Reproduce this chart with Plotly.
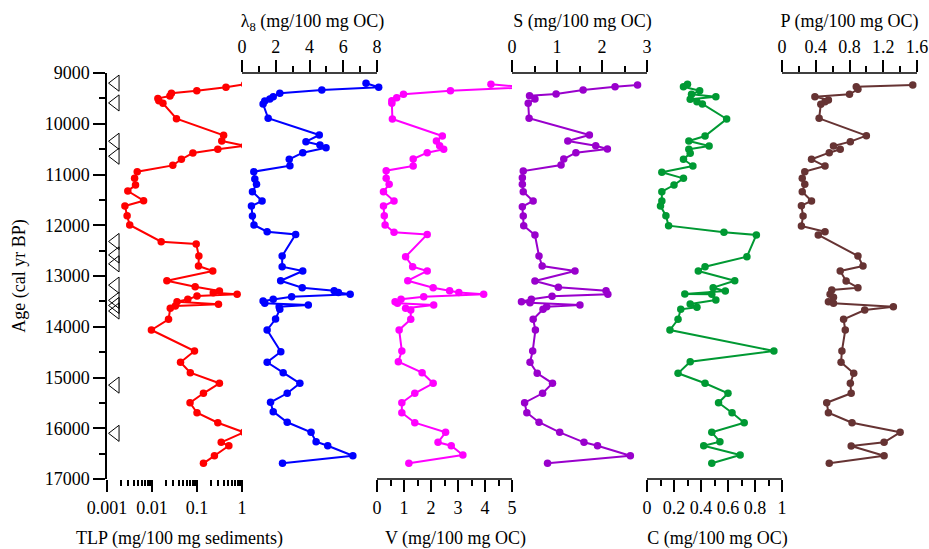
import plotly.graph_objects as go

# ---------------- data ----------------
tlp_age = [9223, 9282, 9348, 9400, 9453, 9500, 9545, 9598, 9900, 10228, 10340, 10432, 10504, 10576,
           10700, 10820, 10944, 11076, 11207, 11325, 11516, 11621, 11811, 11995, 12324, 12369, 12606,
           12803, 12901, 13093, 13211, 13296, 13330, 13361, 13394, 13460, 13507, 13558, 13591, 13636,
           13853, 14064, 14478, 14700, 14905, 15114, 15311, 15497, 15694, 15891, 16080, 16277, 16344,
           16541, 16691]
tlp_val = [1.15, 0.44, 0.099, 0.027, 0.025, 0.0135, 0.0142, 0.0175, 0.035, 0.39, 0.355, 1.15, 0.29, 0.081,
           0.045, 0.029, 0.0047, 0.0041, 0.0043, 0.0029, 0.0065, 0.0025, 0.0028, 0.0032, 0.016, 0.096, 0.11,
           0.108, 0.224, 0.0214, 0.091, 0.315, 0.23, 0.78, 0.1, 0.0625, 0.036, 0.3, 0.033, 0.0255,
           0.0233, 0.0097, 0.088, 0.043, 0.071, 0.315, 0.139, 0.07, 0.1, 0.29, 1.09, 0.345, 0.51,
           0.244, 0.139]

lam_age = [9203, 9282, 9335, 9400, 9466, 9512, 9552, 9611, 9893, 10222, 10353, 10419, 10471, 10570,
           10700, 10826, 10944, 11089, 11193, 11339, 11522, 11621, 11818, 11995, 12127, 12180, 12606,
           12816, 12901, 13093, 13230, 13290, 13323, 13361, 13408, 13460, 13493, 13538, 13571, 13604,
           13656, 13847, 14064, 14491, 14700, 14905, 15114, 15311, 15488, 15673, 15882, 16080, 16264,
           16344, 16541, 16691]
lam_val = [7.35, 8.1, 4.73, 2.24, 1.85, 1.65, 1.35, 1.25, 1.55, 4.58, 3.79, 4.62, 4.98, 3.6,
           2.8, 2.84, 0.7, 0.76, 0.86, 0.62, 1.19, 0.56, 0.62, 0.71, 1.49, 3.18, 2.38,
           2.38, 3.6, 2.29, 3.57, 5.46, 5.71, 6.41, 2.94, 1.85, 1.25, 1.35, 3.93, 2.2,
           2.24, 1.99, 1.49, 2.3, 1.49, 2.44, 3.43, 2.68, 1.69, 1.85, 2.68, 4.09, 4.39,
           5.08, 6.57, 2.4]

v_age = [9223, 9282, 9348, 9420, 9486, 9545, 9598, 9906, 10241, 10340, 10432, 10504, 10570, 10695,
         10833, 10925, 11076, 11193, 11339, 11522, 11621, 11811, 11995, 12140, 12180, 12620, 12816,
         12901, 13093, 13230, 13290, 13323, 13361, 13408, 13460, 13507, 13538, 13571, 13636, 13670,
         13853, 14064, 14478, 14688, 14905, 15114, 15311, 15497, 15694, 15891, 16080, 16277, 16344,
         16527, 16691]
v_val = [4.22, 5.56, 2.72, 0.98, 0.73, 0.55, 0.55, 0.57, 2.42, 2.2, 2.32, 2.47, 1.86, 1.34,
         1.34, 0.34, 0.34, 0.45, 0.24, 0.63, 0.24, 0.27, 0.3, 0.63, 1.86, 1.06, 1.32,
         1.86, 1.14, 2.08, 2.69, 3.03, 3.95, 1.73, 0.89, 0.67, 0.76, 2.1, 1.06, 1.25,
         1.25, 0.82, 0.92, 0.79, 1.67, 2.08, 1.4, 0.92, 0.92, 1.4, 2.54, 2.26, 2.75,
         3.18, 1.18]

s_age = [9236, 9270, 9335, 9414, 9447, 9512, 9598, 9893, 10222, 10340, 10432, 10497, 10570, 10695,
         10813, 10931, 11062, 11193, 11339, 11522, 11634, 11818, 12009, 12192, 12606, 12803, 12901,
         13099, 13223, 13290, 13361, 13400, 13460, 13507, 13527, 13571, 13604, 13656, 13853, 14064,
         14478, 14700, 14917, 15114, 15311, 15497, 15694, 15882, 16080, 16277, 16344, 16541, 16691]
s_val = [2.79, 2.29, 1.58, 0.98, 0.39, 0.51, 0.36, 0.38, 1.72, 1.24, 1.86, 2.12, 1.42, 1.15,
         1.09, 0.25, 0.23, 0.23, 0.25, 0.47, 0.23, 0.25, 0.26, 0.51, 0.6, 0.67, 1.4,
         0.51, 1.03, 2.09, 2.13, 0.89, 0.43, 0.21, 0.4, 1.51, 0.77, 0.69, 0.47, 0.52,
         0.46, 0.4, 0.56, 0.9, 0.68, 0.28, 0.33, 0.6, 1.06, 1.6, 1.9, 2.63, 0.79]

c_age = [9223, 9270, 9348, 9420, 9466, 9518, 9565, 9611, 9906, 10241, 10340, 10438, 10504, 10583,
         10700, 10833, 10957, 11076, 11207, 11339, 11522, 11621, 11811, 12009, 12140, 12192, 12620,
         12816, 12901, 13093, 13230, 13296, 13355, 13361, 13473, 13552, 13617, 13656, 13853, 14064,
         14478, 14688, 14917, 15114, 15311, 15497, 15694, 15891, 16080, 16264, 16344, 16527, 16691]
c_val = [0.3, 0.27, 0.39, 0.33, 0.51, 0.32, 0.37, 0.41, 0.59, 0.43, 0.31, 0.46, 0.31, 0.32,
         0.27, 0.34, 0.11, 0.27, 0.2, 0.11, 0.11, 0.1, 0.14, 0.16, 0.57, 0.81, 0.74,
         0.43, 0.38, 0.65, 0.49, 0.58, 0.28, 0.48, 0.51, 0.32, 0.37, 0.25, 0.23, 0.17,
         0.94, 0.32, 0.23, 0.43, 0.6, 0.53, 0.63, 0.72, 0.48, 0.54, 0.42, 0.69, 0.48]

p_age = [9236, 9270, 9321, 9420, 9466, 9532, 9565, 9617, 9893, 10235, 10353, 10438, 10504, 10570,
         10700, 10833, 10944, 11076, 11193, 11339, 11522, 11614, 11818, 12015, 12127, 12192, 12606,
         12803, 12901, 13099, 13230, 13276, 13361, 13420, 13507, 13538, 13604, 13670, 13853, 14064,
         14478, 14700, 14917, 15114, 15311, 15497, 15694, 15891, 16080, 16277, 16350, 16541, 16691]
p_val = [1.55, 0.88, 0.9, 0.8, 0.39, 0.55, 0.51, 0.46, 0.44, 1.0, 0.81, 0.61, 0.69, 0.56,
         0.35, 0.51, 0.27, 0.24, 0.27, 0.24, 0.35, 0.23, 0.25, 0.23, 0.51, 0.43, 0.9,
         0.96, 0.69, 0.76, 0.9, 0.59, 0.57, 0.61, 0.55, 0.61, 1.32, 0.98, 0.73, 0.75,
         0.71, 0.70, 0.85, 0.81, 0.82, 0.53, 0.55, 0.83, 1.40, 1.21, 0.82, 1.21, 0.56]

# dating control points (open triangles)
tri_age = [9200, 9590, 10345, 10640, 12320, 12585, 12760, 13180, 13480, 13580, 13690, 15150, 16100]
tri_pos = 0.00155

age_ticks = [9000, 10000, 11000, 12000, 13000, 14000, 15000, 16000, 17000]

FONT = "Liberation Serif"
W_PLOT = 810.0
PANEL = 135.0

panels = [
    dict(age=tlp_age, val=tlp_val, color="#FF0000", side="bottom", log=True, lo=-3, hi=0, ext=10,
         tv=[0.001, 0.01, 0.1, 1], tt=["0.001", "0.01", "0.1", "1"],
         minor=[m * 10 ** e for e in (-3, -2, -1) for m in range(2, 10)],
         title="TLP (mg/100 mg sediments)"),
    dict(age=lam_age, val=lam_val, color="#0000FF", side="top", log=False, lo=0, hi=8, ext=6,
         tv=[0, 2, 4, 6, 8], tt=["0", "2", "4", "6", "8"], minor=[1, 3, 5, 7],
         title="λ<sub>8</sub> (mg/100 mg OC)"),
    dict(age=v_age, val=v_val, color="#FF00FF", side="bottom", log=False, lo=0, hi=5, ext=22,
         tv=[0, 1, 2, 3, 4, 5], tt=["0", "1", "2", "3", "4", "5"], minor=[0.5, 1.5, 2.5, 3.5, 4.5],
         title="V (mg/100 mg OC)"),
    dict(age=s_age, val=s_val, color="#9900CC", side="top", log=False, lo=0, hi=3, ext=6,
         tv=[0, 1, 2, 3], tt=["0", "1", "2", "3"], minor=[0.5, 1.5, 2.5],
         title="S (mg/100 mg OC)"),
    dict(age=c_age, val=c_val, color="#009933", side="bottom", log=False, lo=0, hi=1, ext=6,
         tv=[0, 0.2, 0.4, 0.6, 0.8, 1], tt=["0", "0.2", "0.4", "0.6", "0.8", "1"],
         minor=[0.1, 0.3, 0.5, 0.7, 0.9],
         title="C (mg/100 mg OC)"),
    dict(age=p_age, val=p_val, color="#663333", side="top", log=False, lo=0, hi=1.6, ext=0,
         tv=[0, 0.4, 0.8, 1.2, 1.6], tt=["0", "0.4", "0.8", "1.2", "1.6"], minor=[0.2, 0.6, 1.0, 1.4],
         title="P (mg/100 mg OC)"),
]

fig = go.Figure()
shapes = []
for i, p in enumerate(panels):
    n = i + 1
    xname = "x" if n == 1 else f"x{n}"
    lname = "xaxis" if n == 1 else f"xaxis{n}"
    d0 = i * PANEL / W_PLOT
    d1 = min(1.0, (i * PANEL + PANEL + p["ext"]) / W_PLOT)
    hi_ext = p["lo"] + (p["hi"] - p["lo"]) * (PANEL + p["ext"]) / PANEL
    fig.add_trace(go.Scatter(
        x=p["val"], y=p["age"], xaxis=xname, yaxis="y", mode="lines+markers",
        line=dict(color=p["color"], width=2), marker=dict(color=p["color"], size=7.5),
        cliponaxis=False, showlegend=False))
    ax = dict(
        domain=[d0, d1], anchor="y", side=p["side"], automargin=False,
        range=[p["lo"], hi_ext], type="log" if p["log"] else "linear",
        showgrid=False, zeroline=False, showline=False,
        tickmode="array", tickvals=p["tv"], ticktext=p["tt"],
        ticks="outside", ticklen=12, tickwidth=1.5, tickcolor="black",
        tickfont=dict(family=FONT, size=18, color="black"),
        minor=dict(tickvals=p["minor"], ticks="outside", ticklen=6, tickwidth=1.5,
                   tickcolor="black", showgrid=False),
        title=dict(text=p["title"], font=dict(family=FONT, size=18, color="black"),
                   standoff=16 if p["side"] == "bottom" else 4),
    )
    fig.update_layout({lname: ax})
    yv = 0 if p["side"] == "bottom" else 1
    shapes.append(dict(type="line", xref=xname, yref="paper", x0=p["lo"], x1=p["hi"], y0=yv, y1=yv,
                       line=dict(color="black", width=1.5)))

# dating triangles on the TLP panel
fig.add_trace(go.Scatter(
    x=[tri_pos] * len(tri_age), y=tri_age, xaxis="x", yaxis="y", mode="markers",
    marker=dict(symbol="triangle-left-open", size=14, color="black", line=dict(width=1)),
    cliponaxis=False, showlegend=False))

fig.update_layout(
    width=929, height=549,
    margin=dict(l=107, r=12, t=73, b=70, autoexpand=False),
    paper_bgcolor="white", plot_bgcolor="white",
    font=dict(family=FONT, size=18, color="black"),
    shapes=shapes,
    yaxis=dict(
        range=[17000, 9000], anchor="x", automargin=False, showgrid=False, zeroline=False,
        showline=True, linecolor="black", linewidth=1.5,
        tickmode="array", tickvals=age_ticks, ticktext=[str(a) for a in age_ticks],
        ticks="outside", ticklen=12, tickwidth=1.5, tickcolor="black",
        tickfont=dict(family=FONT, size=18, color="black"),
        minor=dict(tickvals=[9500, 10500, 11500, 12500, 13500, 14500, 15500, 16500],
                   ticks="outside", ticklen=6, tickwidth=1.5, tickcolor="black", showgrid=False),
        title=dict(text="Age (cal yr BP)", font=dict(family=FONT, size=18, color="black"), standoff=14),
    ),
)

fig.write_html("out.html")
